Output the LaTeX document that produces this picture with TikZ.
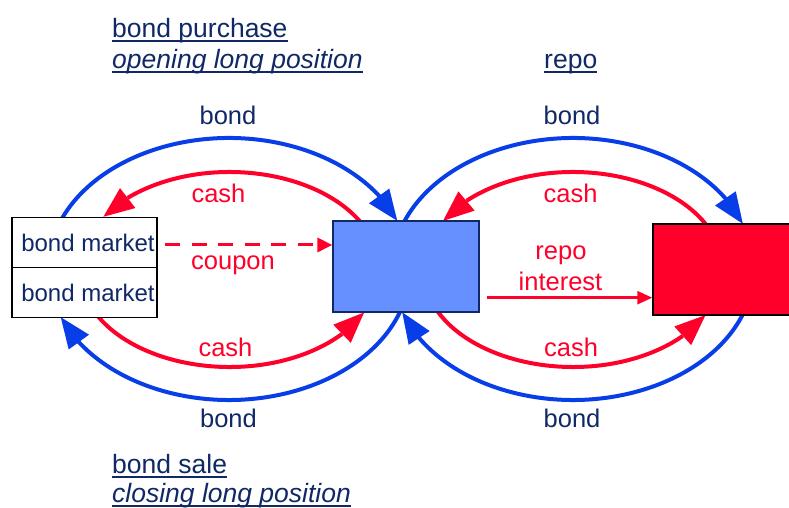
\documentclass[tikz,border=0pt]{standalone}
\usepackage{fontspec}
\setmainfont{Liberation Sans}
\usetikzlibrary{arrows.meta,bending,calc}

\definecolor{navy}{RGB}{16,40,102}
\definecolor{flowblue}{RGB}{8,62,232}
\definecolor{flowred}{RGB}{255,0,42}
\definecolor{boxblue}{RGB}{102,144,255}
\definecolor{boxred}{RGB}{255,0,42}

% underline drawn just below the baseline
\newsavebox\ulinebox
\newcommand\ulinetext[1]{\sbox\ulinebox{#1}\rlap{\rule[-4.5pt]{\wd\ulinebox}{2pt}}\usebox\ulinebox}

\tikzset{
  flowlabel/.style={font=\fontsize{25.5}{30}\selectfont, inner sep=0pt, anchor=base},
  bondlabel/.style={flowlabel, text=navy},
  cashlabel/.style={flowlabel, text=flowred},
  heading/.style={font=\fontsize{26.5}{30}\selectfont, text=navy, inner sep=0pt, anchor=base west},
  bigtip/.style={-{Triangle[length=31pt,width=24pt]}},
  bondflow/.style={draw=flowblue, line width=4pt, bigtip},
  cashflow/.style={draw=flowred, line width=4pt, bigtip},
  marketbox/.style={draw=black, line width=1.3pt, fill=white, minimum width=145pt,
    minimum height=50pt, inner sep=0pt, text=navy, font=\fontsize{24}{28}\selectfont},
}

\begin{document}
\begin{tikzpicture}[x=1pt,y=1pt]
\useasboundingbox (0,0) rectangle (789,508);
\clip (0,0) rectangle (789,508);

% centres of the two elliptical loops
\coordinate (cL) at (229,239);
\coordinate (cLr) at (229.5,238.5);
\coordinate (cR) at (573,239);
\coordinate (cRr) at (573,238.5);

% left loop: bond purchase / bond sale
\draw[bondflow] ($(cL)+(157:181pt and 131pt)$)
  arc[start angle=157, end angle=21.5, x radius=181pt, y radius=131pt];
\draw[bondflow] ($(cL)+(-19.2:181pt and 131pt)$)
  arc[start angle=-19.2, end angle=-158.5, x radius=181pt, y radius=131pt];
\draw[cashflow] ($(cLr)+(29.8:150pt and 97.5pt)$)
  arc[start angle=29.8, end angle=147.4, x radius=150pt, y radius=97.5pt];
\draw[cashflow] ($(cLr)+(-151:150pt and 97.5pt)$)
  arc[start angle=-151, end angle=-26, x radius=150pt, y radius=97.5pt];

% right loop: repo
\draw[bondflow] ($(cR)+(158.5:181pt and 131pt)$)
  arc[start angle=158.5, end angle=20.1, x radius=181pt, y radius=131pt];
\draw[bondflow] ($(cR)+(-20.6:181pt and 131pt)$)
  arc[start angle=-20.6, end angle=-160.8, x radius=181pt, y radius=131pt];
\draw[cashflow] ($(cRr)+(27.8:150pt and 97.5pt)$)
  arc[start angle=27.8, end angle=150.2, x radius=150pt, y radius=97.5pt];
\draw[cashflow] ($(cRr)+(-154.2:150pt and 97.5pt)$)
  arc[start angle=-154.2, end angle=-27.8, x radius=150pt, y radius=97.5pt];

% boxes
\node[marketbox] (mktA) at (84.5,265.5) {\hspace*{7pt}bond market};
\node[marketbox] (mktB) at (84.5,215.5) {\hspace*{7pt}bond market};
\node[draw=navy, line width=1.2pt, fill=boxblue, minimum width=146pt,
  minimum height=91pt, inner sep=0pt] (trader) at (406,241.5) {};
\node[draw=black, line width=1.5pt, fill=boxred, minimum width=147pt,
  minimum height=91pt, inner sep=0pt] (repo) at (726.5,238.5) {};

% coupon and repo interest flows
\coordinate (cpn) at (165,263);
\draw[flowred, line width=3pt, dash pattern=on 15pt off 11.5pt,
  -{Triangle[length=15pt,width=14pt]}] (cpn) -- (cpn -| trader.west);
\coordinate (ri) at (487,210.3);
\draw[flowred, line width=2.6pt, -{Triangle[length=15pt,width=13pt]}]
  (ri) -- (ri -| repo.west);

% flow labels
\node[bondlabel] (bTL) at (228,383) {bond};
\node[bondlabel] (bTR) at (572,383) {bond};
\node[cashlabel] (cTL) at (218.5,305.5) {cash};
\node[cashlabel] (cTR) at (570.5,305.5) {cash};
\node[cashlabel] (cpnl) at (233,238) {coupon};
\node[cashlabel] (rp1) at (561,248) {repo};
\node[cashlabel] (rp2) at (560.5,217) {interest};
\node[cashlabel] (cBL) at (225.5,151) {cash};
\node[cashlabel] (cBR) at (571,151) {cash};
\node[bondlabel] (bBL) at (228.5,80) {bond};
\node[bondlabel] (bBR) at (572,80) {bond};

% headings
\node[heading] (h1) at (112,470) {\ulinetext{bond purchase}};
\node[heading] (h2) at (112,439) {\ulinetext{\itshape opening long position}};
\node[heading] (h3) at (544,439) {\ulinetext{repo}};
\node[heading] (h4) at (112,34) {\ulinetext{bond sale}};
\node[heading] (h5) at (112,5) {\ulinetext{\itshape closing long position}};
\end{tikzpicture}
\end{document}
